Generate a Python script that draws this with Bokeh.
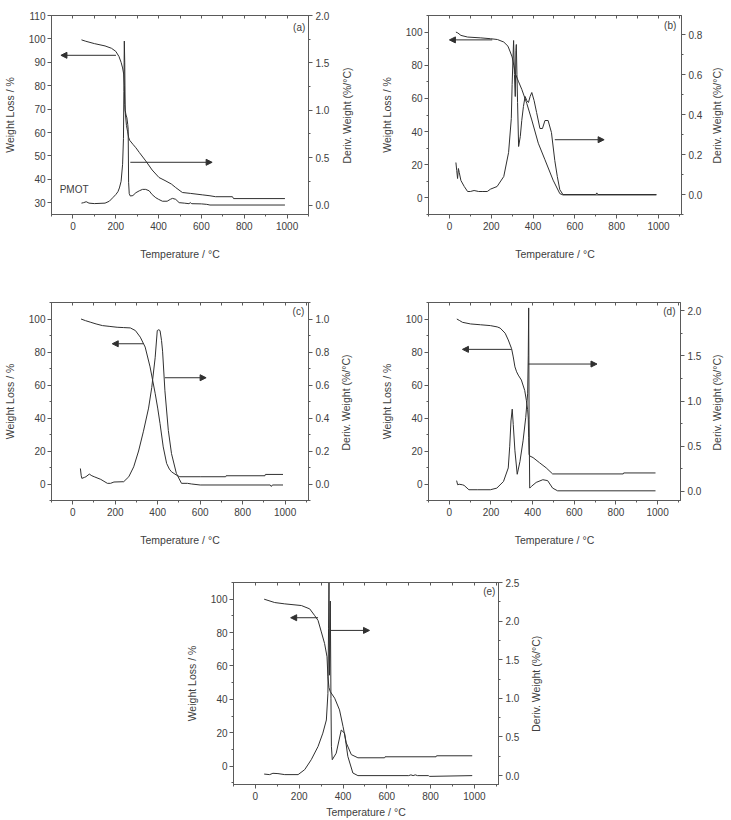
import math
from bokeh.plotting import figure
from bokeh.models import (Range1d, LinearAxis, SingleIntervalTicker, FixedTicker, NumeralTickFormatter,
                          Arrow, NormalHead, Label)
from bokeh.layouts import column, row
from bokeh.embed import file_html
from bokeh.resources import INLINE

# ---------------- data ----------------
# (a) PMOT
Ta_w = [40, 60, 100, 150, 180, 200, 215, 225, 232, 237, 240, 242, 245, 250, 255, 260, 265, 280, 294, 310,
        340, 370, 402, 430, 460, 480, 511, 550, 604, 640, 666, 745, 750, 990]
Wa = [99.6, 99, 98, 97, 96, 94.7, 92.5, 90, 87.6, 85, 80, 72, 68, 63, 60.6, 58, 56.7, 55, 53.5, 51.5,
      47.9, 44, 40.8, 39.5, 38, 36.5, 34.4, 34, 33.4, 33, 32.6, 32.6, 31.8, 31.8]
Ta_d = [40, 50, 62, 75, 100, 150, 170, 186, 200, 210, 217, 225, 232, 236, 238, 240, 242, 244, 248, 252,
        256, 258, 260, 263, 268, 280, 294, 310, 325, 340, 356, 370, 387, 400, 418, 440, 455, 465, 480,
        496, 520, 542, 548, 555, 600, 625, 640, 990]
Da = [0.02, 0.025, 0.035, 0.02, 0.015, 0.02, 0.04, 0.077, 0.11, 0.14, 0.18, 0.25, 0.43, 0.7, 1.2, 1.73,
      1.5, 1.0, 0.95, 0.92, 0.85, 0.8, 0.24, 0.12, 0.095, 0.1, 0.13, 0.15, 0.165, 0.165, 0.15, 0.11,
      0.077, 0.06, 0.04, 0.04, 0.06, 0.07, 0.06, 0.025, 0.02, 0.014, 0.025, 0.014, 0.012, 0.007, 0.0, 0.0]

# (b)
Tb_w = [31, 40, 55, 87, 150, 197, 230, 260, 280, 291, 300, 308, 315, 331, 346, 370, 394, 425, 457, 496,
        528, 543, 990]
Wb = [100, 99.5, 98, 97, 96.5, 96, 95.5, 94, 91.5, 88, 85, 80, 75, 70, 65.5, 57, 47, 33, 23, 10.7,
      2.6, 1.8, 1.8]
Tb_d = [31, 35, 39, 43, 47, 55, 71, 87, 100, 118, 140, 160, 181, 197, 228, 260, 283, 296, 300, 304,
        307, 311, 315, 318, 320, 323, 326, 331, 339, 346, 354, 362, 370, 378, 386, 394, 405, 417, 433,
        445, 457, 472, 488, 504, 516, 528, 543, 700, 705, 710, 990]
Db = [0.16, 0.12, 0.08, 0.13, 0.11, 0.07, 0.04, 0.015, 0.015, 0.02, 0.015, 0.015, 0.015, 0.027, 0.04,
      0.09, 0.21, 0.38, 0.55, 0.68, 0.77, 0.6, 0.49, 0.72, 0.75, 0.6, 0.46, 0.24, 0.29, 0.37, 0.44,
      0.49, 0.47, 0.46, 0.49, 0.51, 0.47, 0.41, 0.33, 0.33, 0.37, 0.37, 0.31, 0.17, 0.09, 0.024, 0.0,
      0.0, 0.008, 0.0, 0.0]

# (c)
Tc_w = [39, 60, 85, 110, 140, 175, 209, 240, 271, 295, 318, 341, 364, 376, 388, 400, 411, 426, 442, 455,
        465, 488, 504, 600, 720, 722, 905, 907, 990]
Wc = [100, 99, 98, 97, 96, 95.5, 95, 94.8, 94.6, 93, 89, 83, 71, 63, 55, 46, 36.6, 22.5, 12.5, 9,
      7.4, 5.4, 4.4, 4.4, 4.4, 5, 5, 5.8, 5.8]
Tc_d = [36, 40, 43, 55, 62, 78, 90, 101, 132, 163, 178, 194, 240, 264, 287, 310, 333, 357, 372, 388,
        398, 405, 411, 418, 423, 434, 450, 465, 488, 512, 540, 560, 600, 930, 935, 940, 990]
Dc = [0.094, 0.05, 0.034, 0.04, 0.044, 0.06, 0.05, 0.044, 0.028, 0.004, 0.004, 0.012, 0.014, 0.044,
      0.104, 0.2, 0.32, 0.46, 0.585, 0.765, 0.93, 0.935, 0.93, 0.87, 0.805, 0.565, 0.325, 0.184, 0.064,
      0.004, 0.004, 0.0, -0.006, -0.006, -0.015, -0.006, -0.006]

# (d)
Td_w = [36, 50, 63, 102, 150, 197, 230, 244, 268, 283, 299, 307, 315, 323, 331, 346, 362, 370, 376, 379,
        381, 383, 386, 402, 433, 465, 496, 835, 837, 990]
Wd = [100, 99, 98, 97, 96.5, 96, 95.2, 94.5, 91.4, 87.3, 82, 77, 71, 68, 66, 63, 56.7, 50.6, 45, 40,
      28, 18, 17, 16, 12.9, 9.8, 6.1, 6.1, 6.7, 6.7]
Td_d = [35, 40, 47, 63, 71, 94, 134, 197, 228, 260, 283, 290, 296, 302, 307, 315, 326, 339, 354, 367,
        376, 379, 381, 383, 386, 394, 417, 449, 472, 496, 520, 990]
Dd = [0.12, 0.074, 0.08, 0.074, 0.067, 0.019, 0.019, 0.019, 0.037, 0.11, 0.26, 0.5, 0.78, 0.91, 0.74,
      0.45, 0.19, 0.33, 0.56, 0.82, 1.08, 1.5, 2.03, 0.8, 0.037, 0.056, 0.10, 0.13, 0.12, 0.037, 0.007,
      0.007]

# (e)
Te_w = [40, 88, 134, 210, 248, 270, 286, 301, 316, 327, 331, 336, 342, 362, 384, 400, 415, 438, 468,
        590, 592, 825, 827, 990]
We = [100, 98, 97.2, 96.2, 94.2, 90.3, 87.3, 80.4, 73.4, 65.5, 53.6, 47, 44.6, 40.7, 33.7, 23.8, 13.9,
      6.9, 5, 5, 5.6, 5.6, 6.2, 6.2]
Te_d = [40, 65, 80, 103, 134, 195, 225, 255, 286, 308, 324, 331, 334, 336, 338, 342, 345, 347, 351,
        369, 392, 407, 422, 445, 468, 700, 710, 720, 730, 740, 790, 795, 990]
De = [0.02, 0.013, 0.03, 0.026, 0.013, 0.013, 0.077, 0.206, 0.377, 0.55, 0.72, 1.06, 1.9, 2.5, 1.3,
      2.26, 1.0, 0.38, 0.206, 0.29, 0.59, 0.55, 0.25, 0.034, 0.0, 0.0, 0.01, 0.0, 0.01, 0.0, 0.0, -0.01,
      0.0]

# arrows: (x_start, x_end, y) in weight units
arrows_a = [(201, -56, 93.0), (268, 650, 47.3)]
arrows_b = [(205, 0, 95.3), (504, 740, 35.1)]
arrows_c = [(333, 186, 85.0), (434, 628, 64.4)]
arrows_d = [(299, 63, 81.6), (378, 709, 72.7)]
arrows_e = [(286, 161, 88.9), (342, 521, 81.3)]

panel_tags = ["(a)", "(b)", "(c)", "(d)", "(e)"]
x_title = "Temperature / °C"
yl_title = "Weight Loss / %"
yr_title = "Deriv. Weight (%/°C)"

# ---------------- styling ----------------
FONT = "Liberation Sans"
TXT = "#404040"
LINE = "#303030"
AX = "#5a5a5a"
TITLE_FS = 10.5
TITLE_LEN = 97  # approx. pixel length of the right title at TITLE_FS


def style_axis(ax, fs="10px", tfs="10.5px"):
    ax.axis_line_color = AX
    ax.major_tick_line_color = AX
    ax.minor_tick_line_color = AX
    ax.major_label_text_font = FONT
    ax.major_label_text_font_size = fs
    ax.major_label_text_color = TXT
    ax.axis_label_text_font = FONT
    ax.axis_label_text_font_size = tfs
    ax.axis_label_text_font_style = "normal"
    ax.axis_label_text_color = TXT


def panel(w, h, bl, br, bt, bb, xr, yl, yr, yl_int, yl_minor, yr_int, Tw, W, Td, D, arrows, tag,
          tag_xy, x_std=15, r_std=16, extra_label=None):
    p = figure(width=w, height=h, x_range=Range1d(*xr), y_range=Range1d(*yl),
               output_backend="svg", toolbar_location=None,
               x_axis_location=None, y_axis_location=None,
               min_border_left=bl, min_border_right=br, min_border_top=bt, min_border_bottom=bb)
    p.grid.visible = False
    p.outline_line_color = AX
    p.background_fill_color = "white"
    p.border_fill_color = "white"
    fh = h - bt - bb
    p.extra_y_ranges = {"d": Range1d(*yr), "t": Range1d(0, fh)}

    xb = LinearAxis(ticker=SingleIntervalTicker(interval=200, num_minor_ticks=2), axis_label=x_title)
    style_axis(xb)
    xb.major_tick_out = 4
    xb.major_tick_in = 0
    xb.minor_tick_out = 2
    xb.minor_tick_in = 0
    xb.major_label_standoff = 3
    xb.axis_label_standoff = x_std
    p.add_layout(xb, "below")

    # top frame edge: inward tick marks only, no labels
    xt = LinearAxis(ticker=FixedTicker(ticks=[], minor_ticks=list(range(-100, 1200, 100))))
    style_axis(xt)
    xt.major_label_standoff = 0
    xt.major_tick_out = 0
    xt.major_tick_in = 0
    xt.minor_tick_out = 0
    xt.minor_tick_in = 3
    p.add_layout(xt, "above")

    ya = LinearAxis(ticker=SingleIntervalTicker(interval=yl_int, num_minor_ticks=yl_minor),
                    axis_label=yl_title)
    style_axis(ya)
    ya.major_tick_out = 4
    ya.major_tick_in = 0
    ya.minor_tick_out = 2
    ya.minor_tick_in = 0
    ya.major_label_standoff = 2
    ya.axis_label_standoff = 10
    p.add_layout(ya, "left")

    yb = LinearAxis(y_range_name="d",
                    ticker=SingleIntervalTicker(interval=yr_int, num_minor_ticks=2),
                    formatter=NumeralTickFormatter(format="0.0"))
    style_axis(yb)
    yb.major_tick_out = 4
    yb.major_tick_in = 0
    yb.minor_tick_out = 2
    yb.minor_tick_in = 0
    yb.major_label_standoff = 3
    p.add_layout(yb, "right")

    # right-hand title, reading bottom-to-top: a bare axis whose single tick label is the title
    tpos = int(round(fh / 2 - TITLE_LEN / 2))
    yt = LinearAxis(y_range_name="t", ticker=FixedTicker(ticks=[tpos]),
                    major_label_overrides={tpos: yr_title})
    style_axis(yt, fs=f"{TITLE_FS}px")
    yt.axis_line_color = None
    yt.major_tick_line_color = None
    yt.minor_tick_line_color = None
    yt.major_tick_out = 0
    yt.major_tick_in = 0
    yt.major_label_standoff = r_std
    yt.major_label_orientation = math.pi / 2
    p.add_layout(yt, "right")

    p.line(Tw, W, line_color=LINE, line_width=1)
    p.line(Td, D, line_color=LINE, line_width=1, y_range_name="d")

    for xs, xe, yy in arrows:
        p.add_layout(Arrow(end=NormalHead(size=6, fill_color=LINE, line_color=LINE, line_width=1),
                           x_start=xs, y_start=yy, x_end=xe, y_end=yy,
                           line_color=LINE, line_width=1))

    p.add_layout(Label(x=tag_xy[0], y=tag_xy[1], text=tag, text_align="right",
                       text_baseline="middle", text_font=FONT, text_font_size="10px",
                       text_color=TXT))
    if extra_label:
        p.add_layout(Label(x=extra_label[0], y=extra_label[1], text=extra_label[2],
                           text_align="left", text_baseline="middle", text_font=FONT,
                           text_font_size="10px", text_color=TXT))
    return p


# row 1: frames y 15..214 ; row 2: frames y 302..500 ; row 3: 582..785
pa = panel(368, 290, 48, 60, 15, 76, (-100, 1100), (25, 110), (-0.1, 2.0), 10, 0, 0.5,
           Ta_w, Wa, Ta_d, Da, arrows_a, panel_tags[0], (1085, 105), r_std=14,
           extra_label=(-62, 35.7, "PMOT"))
pb = panel(363, 290, 60, 45, 15, 76, (-100, 1110), (-10, 110), (-0.1, 0.895), 20, 2, 0.2,
           Tb_w, Wb, Tb_d, Db, arrows_b, panel_tags[1], (1085, 104), r_std=11)
pc = panel(368, 270, 48, 60, 12, 60, (-100, 1110), (-10, 110), (-0.1, 1.1), 20, 2, 0.2,
           Tc_w, Wc, Tc_d, Dc, arrows_c, panel_tags[2], (1090, 104.5), r_std=13)
pd = panel(363, 270, 60, 45, 12, 60, (-100, 1110), (-10, 110), (-0.1, 2.09), 20, 2, 0.5,
           Td_w, Wd, Td_d, Dd, arrows_d, panel_tags[3], (1086, 104.3), r_std=12)
pe = panel(731, 260, 233, 233, 22, 35, (-100, 1110), (-11, 110), (-0.115, 2.5), 20, 2, 0.5,
           Te_w, We, Te_d, De, arrows_e, panel_tags[4], (1096, 104.8), x_std=3, r_std=14)

layout = column(row(pa, pb), row(pc, pd), pe)
open("out.html", "w").write(file_html(layout, INLINE))
